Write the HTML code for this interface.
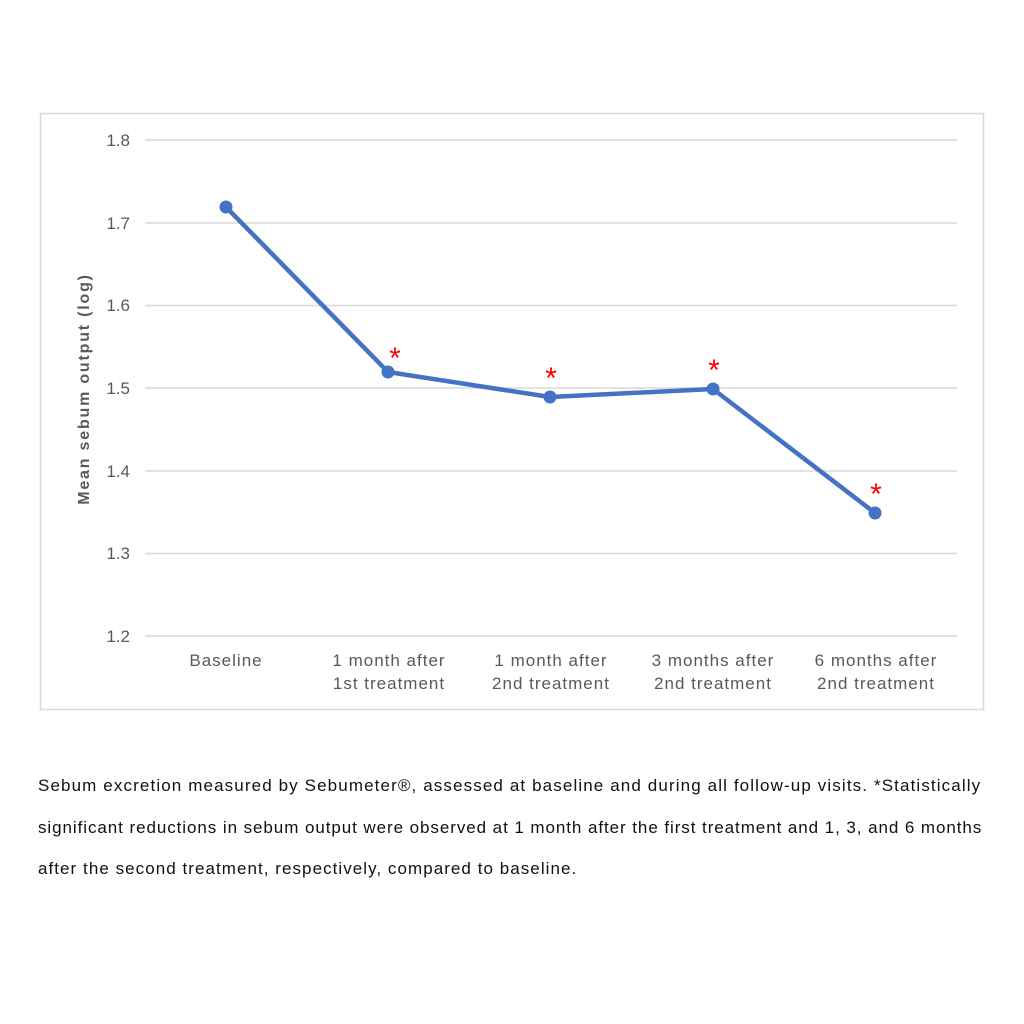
<!DOCTYPE html>
<html><head><meta charset="utf-8"><style>
html,body{margin:0;padding:0;background:#fff;}
body{width:1024px;height:1024px;position:relative;overflow:hidden;font-family:"Liberation Sans",Arial,sans-serif;}
.cap{position:absolute;left:38px;font-size:17px;letter-spacing:1.05px;color:#111;white-space:nowrap;}
</style></head><body>
<svg width="1024" height="1024" style="position:absolute;left:0;top:0" font-family="Liberation Sans, Arial, sans-serif">
<rect x="40.5" y="113.5" width="943" height="596" fill="#fff" stroke="#d9d9d9" stroke-width="1.5"/>
<g stroke="#d9d9d9" stroke-width="1.5">
<line x1="145" x2="957" y1="140" y2="140"/>
<line x1="145" x2="957" y1="223" y2="223"/>
<line x1="145" x2="957" y1="305.5" y2="305.5"/>
<line x1="145" x2="957" y1="388" y2="388"/>
<line x1="145" x2="957" y1="471" y2="471"/>
<line x1="145" x2="957" y1="553.5" y2="553.5"/>
<line x1="145" x2="957" y1="636" y2="636"/>
</g>
<g fill="#595959" font-size="17" text-anchor="end">
<text x="130" y="146">1.8</text>
<text x="130" y="229">1.7</text>
<text x="130" y="311">1.6</text>
<text x="130" y="394">1.5</text>
<text x="130" y="477">1.4</text>
<text x="130" y="559">1.3</text>
<text x="130" y="642">1.2</text>
</g>
<text transform="translate(89,389) rotate(-90)" text-anchor="middle" font-size="16" font-weight="bold" letter-spacing="1.8" fill="#595959">Mean sebum output (log)</text>
<g fill="#595959" font-size="17" letter-spacing="1" text-anchor="middle">
<text x="226" y="666">Baseline</text>
<text x="389" y="666">1 month after</text><text x="389" y="689">1st treatment</text>
<text x="551" y="666">1 month after</text><text x="551" y="689">2nd treatment</text>
<text x="713" y="666">3 months after</text><text x="713" y="689">2nd treatment</text>
<text x="876" y="666">6 months after</text><text x="876" y="689">2nd treatment</text>
</g>
<polyline points="226,207 388,372 550,397 713,389 875,513" fill="none" stroke="#4472c4" stroke-width="4.5" stroke-linejoin="round"/>
<g fill="#4472c4">
<circle cx="226" cy="207" r="6.5"/><circle cx="388" cy="372" r="6.5"/><circle cx="550" cy="397" r="6.5"/><circle cx="713" cy="389" r="6.5"/><circle cx="875" cy="513" r="6.5"/>
</g>
<g fill="#ff0000" font-size="30" text-anchor="middle">
<text x="395" y="368">*</text>
<text x="551" y="388">*</text>
<text x="714" y="380">*</text>
<text x="876" y="504">*</text>
</g>
</svg>
<div class="cap" style="top:776px;letter-spacing:1.12px">Sebum excretion measured by Sebumeter®, assessed at baseline and during all follow-up visits. *Statistically</div>
<div class="cap" style="top:818px;letter-spacing:0.93px">significant reductions in sebum output were observed at 1 month after the first treatment and 1, 3, and 6 months</div>
<div class="cap" style="top:859px">after the second treatment, respectively, compared to baseline.</div>
</body></html>
